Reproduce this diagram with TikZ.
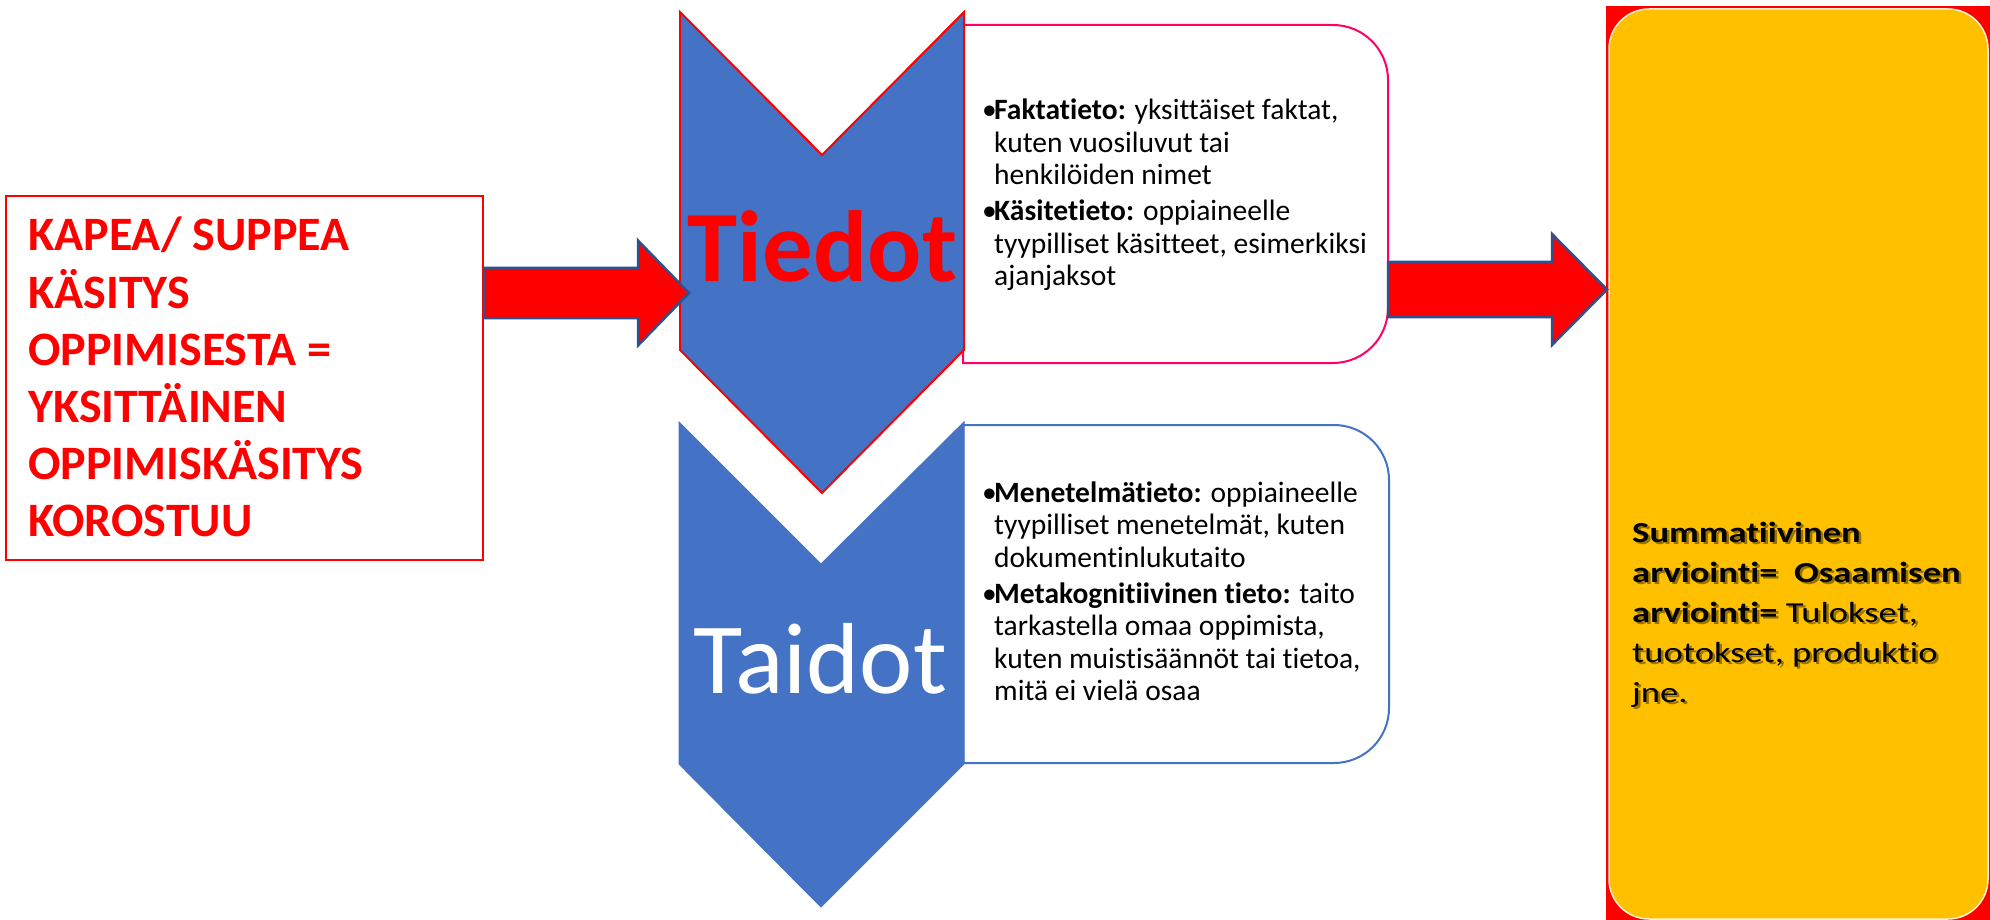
\documentclass[tikz,border=0pt]{standalone}
\usepackage{fontspec}
\setmainfont[RawFeature={-liga;-clig;-dlig}]{Carlito}
\newfontfamily\orangefont[FakeStretch=1.26,RawFeature={-liga;-clig;-dlig}]{Carlito}
\usetikzlibrary{calc}
\definecolor{cblue}{RGB}{68,114,196}
\definecolor{cdarkblue}{RGB}{47,82,143}
\definecolor{cpink}{RGB}{255,0,102}
\definecolor{corange}{RGB}{255,192,0}
\definecolor{ccream}{RGB}{255,242,214}
\begin{document}
\begin{tikzpicture}[x=1pt,y=-1pt,line join=miter,
  kapeabox/.style={draw=red,line width=2pt,minimum width=477pt,minimum height=364pt,inner sep=0pt},
  kapeatext/.style={text=red,font=\fontsize{48}{57.2}\selectfont\bfseries,inner sep=0pt,anchor=base west},
  listtext/.style={text=black,font=\fontsize{29.5}{32.5}\selectfont,inner sep=0pt,anchor=base west},
  chevtiedot/.style={fill=cblue,draw=red,line width=2pt},
  chevtaidot/.style={fill=cblue,draw=cblue,line width=1pt},
  infobox/.style={fill=white,line width=2pt},
  blockarrow/.style={fill=red,draw=cdarkblue,line width=2.5pt},
  orangetext/.style={font=\orangefont\fontsize{29}{40}\selectfont,inner sep=0pt,anchor=base west}
]
\useasboundingbox (0,0) rectangle (1990,920);
\fill[white] (0,0) rectangle (1990,920);

% left box
\node[kapeabox] (kapea) at (244.5,378) {};
\node[kapeatext] (kapeat) at (28,251) {\begin{tabular}[t]{@{}l@{}}
KAPEA/ SUPPEA\\
KÄSITYS\\
OPPIMISESTA =\\
YKSITTÄINEN\\
OPPIMISKÄSITYS\\
KOROSTUU
\end{tabular}};

% info boxes (drawn before chevrons)
\draw[infobox,draw=cpink] (963,25) -- (1333,25) arc[start angle=90,end angle=0,radius=55pt]
  -- (1388,308) arc[start angle=0,end angle=-90,radius=55pt] -- (963,363) -- cycle;
\draw[infobox,draw=cblue] (963,425) -- (1334,425) arc[start angle=90,end angle=0,radius=55pt]
  -- (1389,708) arc[start angle=0,end angle=-90,radius=55pt] -- (963,763) -- cycle;

% chevrons
\draw[chevtiedot] (680,12) -- (822,155) -- (964,12) -- (964,350) -- (822,493) -- (680,350) -- cycle;
\draw[chevtaidot] (679,422) -- (821,564) -- (964,422) -- (964,764) -- (821,907) -- (679,764) -- cycle;
\node[text=red,font=\fontsize{101}{110}\selectfont\bfseries,inner sep=0pt,anchor=base] (tiedot) at (822.5,282) {Tiedot};
\node[text=white,font=\fontsize{101}{110}\selectfont,inner sep=0pt,anchor=base] (taidot) at (820.5,693) {Taidot};

% list texts
\node[listtext] (tiedotlist) at (982,120) {\begin{tabular}[t]{@{}l@{}l@{}}
\makebox[12pt][l]{•} & \textbf{Faktatieto:} yksittäiset faktat,\\
 & kuten vuosiluvut tai\\
 & henkilöiden nimet\\[3.5pt]
\makebox[12pt][l]{•} & \textbf{Käsitetieto:} oppiaineelle\\
 & tyypilliset käsitteet, esimerkiksi\\
 & ajanjaksot
\end{tabular}};
\node[listtext] (taidotlist) at (982,502) {\begin{tabular}[t]{@{}l@{}l@{}}
\makebox[12pt][l]{•} & \textbf{Menetelmätieto:} oppiaineelle\\
 & tyypilliset menetelmät, kuten\\
 & dokumentinlukutaito\\[3.5pt]
\makebox[12pt][l]{•} & \textbf{Metakognitiivinen tieto:} taito\\
 & tarkastella omaa oppimista,\\
 & kuten muistisäännöt tai tietoa,\\
 & mitä ei vielä osaa
\end{tabular}};

% orange result box
\fill[red] (1606,6) rectangle (1990,920);
\draw[fill=corange,draw=ccream,line width=1.5pt,rounded corners=40pt] (1609,9) rectangle (1988,919);
\node[orangetext,text=black,opacity=0.4] (sumshadow) at (1634.5,544.5) {\begin{tabular}[t]{@{}l@{}}
\textbf{Summatiivinen}\\
\textbf{arviointi=\ \ Osaamisen}\\
\textbf{arviointi=} Tulokset,\\
tuotokset, produktio\\
jne.
\end{tabular}};
\node[orangetext,text=black] (sum) at (1632,542) {\begin{tabular}[t]{@{}l@{}}
\textbf{Summatiivinen}\\
\textbf{arviointi=\ \ Osaamisen}\\
\textbf{arviointi=} Tulokset,\\
tuotokset, produktio\\
jne.
\end{tabular}};

% block arrows
\coordinate (a1s) at (kapea.east |- 0,293);
\coordinate (a1t) at (689,293);
\draw[blockarrow] ($(a1s)+(0,-25)$) -- ($(a1t)+(-51,-25)$) -- ($(a1t)+(-51,-52.5)$) -- (a1t)
  -- ($(a1t)+(-51,52.5)$) -- ($(a1t)+(-51,25)$) -- ($(a1s)+(0,25)$) -- cycle;
\coordinate (a2s) at (1388,289.5);
\coordinate (a2t) at (1607,289.5);
\draw[blockarrow] ($(a2s)+(0,-27.5)$) -- ($(a2t)+(-55,-27.5)$) -- ($(a2t)+(-55,-55.5)$) -- (a2t)
  -- ($(a2t)+(-55,55.5)$) -- ($(a2t)+(-55,27.5)$) -- ($(a2s)+(0,27.5)$) -- cycle;
\end{tikzpicture}
\end{document}
